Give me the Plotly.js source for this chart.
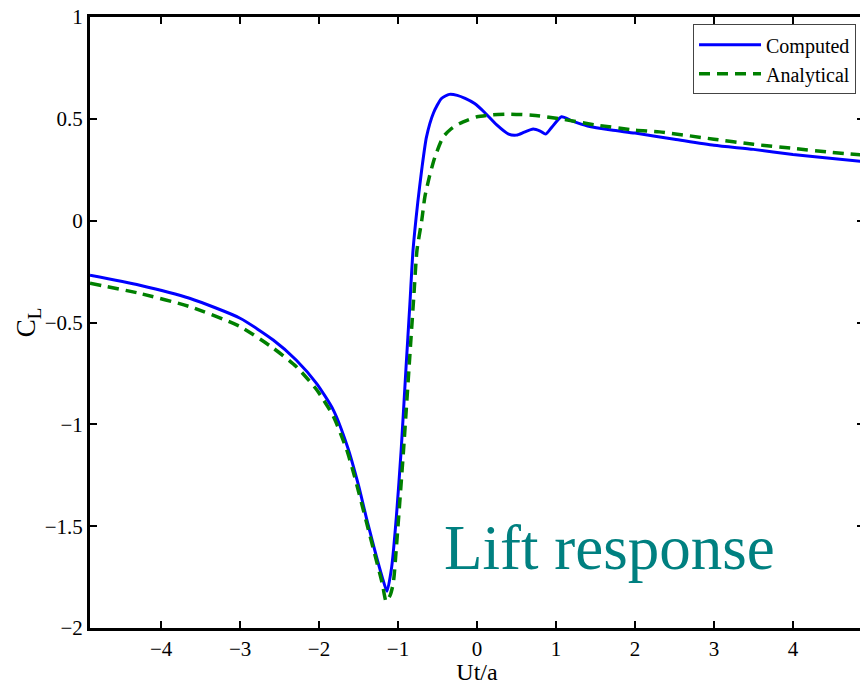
<!DOCTYPE html>
<html>
<head>
<meta charset="utf-8">
<script src="https://cdn.plot.ly/plotly-3.0.1.min.js"></script>
<style>
html,body{margin:0;padding:0;overflow:hidden;background:#fff;}
#chart{width:880px;height:685px;}
</style>
</head>
<body>
<div id="chart"></div>
<script>
// Computed lift coefficient
const computedX = [-4.9,-4.27,-3.64,-3.0,-2.58,-2.29,-2.03,-1.82,-1.64,-1.5,-1.4,-1.3,-1.2,-1.14,-1.08,-1.02,-0.96,-0.9,-0.85,-0.81,-0.75,-0.7,-0.64,-0.55,-0.45,-0.35,-0.25,-0.15,-0.03,0.1,0.25,0.4,0.5,0.6,0.71,0.8,0.87,0.95,1.07,1.2,1.4,1.7,2,2.5,3,3.5,4,4.5,4.9];
const computedY = [-0.268,-0.317,-0.381,-0.479,-0.586,-0.684,-0.8,-0.929,-1.11,-1.3,-1.46,-1.61,-1.75,-1.82,-1.7,-1.45,-1.125,-0.73,-0.41,-0.145,0.09,0.25,0.41,0.53,0.6,0.62,0.615,0.6,0.575,0.53,0.47,0.425,0.42,0.435,0.45,0.44,0.425,0.46,0.51,0.49,0.465,0.445,0.43,0.4,0.37,0.35,0.325,0.305,0.29];

// Analytical lift coefficient
const analyticalX = [-4.9,-4.27,-3.64,-3.0,-2.58,-2.29,-2.03,-1.82,-1.65,-1.55,-1.4,-1.3,-1.2,-1.15,-1.1,-1.06,-1.02,-0.93,-0.85,-0.8,-0.76,-0.7,-0.66,-0.6,-0.535,-0.43,-0.33,-0.22,0,0.2,0.41,0.7,1.05,1.5,2,2.31,3,3.5,4,4.5,4.9];
const analyticalY = [-0.307,-0.357,-0.422,-0.52,-0.626,-0.716,-0.83,-0.96,-1.125,-1.256,-1.48,-1.63,-1.78,-1.87,-1.84,-1.78,-1.6,-1.125,-0.66,-0.37,-0.145,0.0,0.117,0.22,0.31,0.41,0.45,0.477,0.51,0.52,0.523,0.518,0.5,0.47,0.445,0.436,0.4,0.375,0.355,0.335,0.322];

const seriesNames = ['Computed', 'Analytical'];
const xTickVals = [-4,-3,-2,-1,0,1,2,3,4];
const yTickVals = [-2,-1.5,-1,-0.5,0,0.5,1];

const serif = 'Liberation Serif, Times New Roman, serif';

const traces = [
  {x: computedX, y: computedY, name: seriesNames[0], type: 'scatter', mode: 'lines',
   line: {color: 'rgb(0,0,255)', width: 3, shape: 'spline', smoothing: 0.6}},
  {x: analyticalX, y: analyticalY, name: seriesNames[1], type: 'scatter', mode: 'lines',
   line: {color: 'rgb(0,128,0)', width: 3.5, dash: '11px,7px', shape: 'spline', smoothing: 0.6}}
];

const axisCommon = {
  showline: true, linecolor: '#000', linewidth: 3, mirror: 'ticks',
  ticks: 'inside', ticklen: 7, tickwidth: 2, tickcolor: '#000',
  showgrid: false, zeroline: false,
  tickfont: {family: serif, size: 21, color: '#000'}
};

const layout = {
  width: 880, height: 685,
  margin: {l: 90, r: 16, t: 17, b: 57},
  paper_bgcolor: '#fff', plot_bgcolor: '#fff',
  showlegend: true,
  legend: {x: 0.9897, y: 0.988, xanchor: 'right', yanchor: 'top',
    bgcolor: '#fff', bordercolor: '#444', borderwidth: 1, itemwidth: 62,
    font: {family: serif, size: 20, color: '#000'}, tracegroupgap: 0},
  xaxis: Object.assign({}, axisCommon, {
    range: [-4.9, 4.9], tickvals: xTickVals,
    title: {text: 'Ut/a', font: {family: serif, size: 24, color: '#000'}}
  }),
  yaxis: Object.assign({}, axisCommon, {
    range: [-2, 1], tickvals: yTickVals,
    title: {text: 'C<sub>L</sub>', font: {family: serif, size: 27, color: '#000'}, standoff: 0}
  }),
  annotations: [{
    text: 'Lift response', xref: 'paper', yref: 'paper',
    x: 0.455, y: 0.131, xanchor: 'left', yanchor: 'middle', showarrow: false,
    font: {family: serif, size: 63, color: 'rgb(0,128,128)'}
  }]
};

Plotly.newPlot('chart', traces, layout, {displayModeBar: false, staticPlot: true});
</script>
</body>
</html>
